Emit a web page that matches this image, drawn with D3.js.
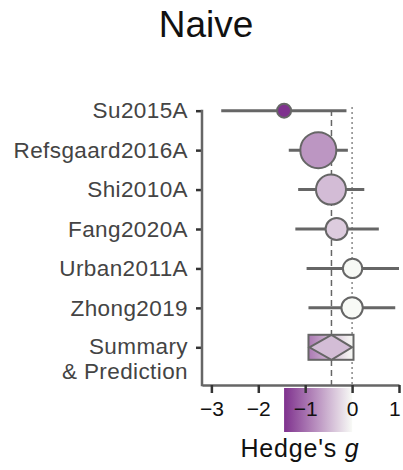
<!DOCTYPE html>
<html><head><meta charset="utf-8">
<script src="https://cdn.jsdelivr.net/npm/d3@7"></script>
<style>body{margin:0;background:#fff}svg{display:block}text{font-family:"Liberation Sans",Arial,Helvetica,sans-serif}</style>
</head><body><svg id="c" width="403" height="470"></svg>
<script>
const studies = ["Su2015A","Refsgaard2016A","Shi2010A","Fang2020A","Urban2011A","Zhong2019"];
const estimates = [-1.45, -0.72, -0.45, -0.33, 0.01, 0.00];
const ciLow = [-2.79, -1.35, -1.15, -1.21, -0.97, -0.93];
const ciHigh = [-0.12, -0.09, 0.26, 0.57, 1.00, 0.92];
const weights = [5.3, 35.0, 24.3, 13.1, 10.1, 12.3];
const summary = {est: -0.44, low: -0.91, high: 0.00};
const prediction = {low: -0.93, high: 0.03};
const xTicks = [-3, -2, -1, 0, 1];
const summaryLabel = ["Summary", "& Prediction"];
const title = "Naive";

const svg = d3.select("#c");
const x = d3.scaleLinear().domain([-3.2, 1]).range([202, 399]);
const rows = studies.concat(["Summary"]);
const y = d3.scalePoint().domain(rows).range([110.7, 347.3]);
const r = d3.scaleSqrt().domain([0, 35]).range([0, 18]);
const color = d3.scaleLinear().domain([-1.5, 0, 1.5])
  .range(["#7b2a8a", "#f8faf6", "#1b7837"]).interpolate(d3.interpolateRgb).clamp(true);
const axisY = 385;
const FONT = "'Liberation Sans',Arial,Helvetica,sans-serif";

const defs = svg.append("defs");
function grad(id, lo, hi) {
  const g = defs.append("linearGradient").attr("id", id).attr("x1", "0%").attr("x2", "100%");
  d3.range(0, 11).forEach(i => {
    const v = lo + (hi - lo) * i / 10;
    g.append("stop").attr("offset", (i * 10) + "%").attr("stop-color", color(v));
  });
}
grad("legendGrad", estimates[0], 0);
grad("predGrad", prediction.low, prediction.high);

// title
svg.append("text").attr("x", 206).attr("y", 37).attr("text-anchor", "middle")
  .attr("font-size", 37).attr("fill", "#111").text(title);

// colour legend under x axis
svg.append("rect").attr("x", x(estimates[0])).attr("y", 388)
  .attr("width", x(0) - x(estimates[0])).attr("height", 44).attr("fill", "url(#legendGrad)");

// reference lines
svg.append("line").attr("x1", x(summary.est)).attr("x2", x(summary.est))
  .attr("y1", 110).attr("y2", axisY).attr("stroke", "#666").attr("stroke-width", 1.5)
  .attr("stroke-dasharray", "6,4");
svg.append("line").attr("x1", x(0)).attr("x2", x(0))
  .attr("y1", 107).attr("y2", axisY).attr("stroke", "#888").attr("stroke-width", 1.5)
  .attr("stroke-dasharray", "2,3");

// x axis
const gx = svg.append("g").attr("transform", `translate(0,${axisY})`)
  .call(d3.axisBottom(x).tickValues(xTicks).tickSize(8).tickSizeOuter(0).tickFormat(d3.format("d")));
gx.select(".domain").attr("stroke", "#666").attr("stroke-width", 2.5);
gx.selectAll(".tick line").attr("stroke", "#333").attr("stroke-width", 2.5);
gx.selectAll(".tick text").attr("font-size", 21).attr("fill", "#111").attr("dy", "0.95em")
  .style("font-family", FONT);
gx.selectAll(".tick").filter(d => d === 1).select("text").attr("text-anchor", "end").attr("dx", "0.05em");

// y axis
const gy = svg.append("g").attr("transform", "translate(202,0)")
  .call(d3.axisLeft(y).tickSize(6).tickSizeOuter(0).tickFormat(d => d === "Summary" ? "" : d));
gy.select(".domain").remove();
gy.selectAll(".tick line").attr("stroke", "#333").attr("stroke-width", 2.5);
gy.selectAll(".tick text").attr("font-size", 22.5).attr("fill", "#444").attr("x", -14)
  .style("letter-spacing", "0.4px").style("font-family", FONT);
svg.append("line").attr("x1", 202).attr("x2", 202).attr("y1", y(rows[0]) - 1).attr("y2", axisY + 1.2)
  .attr("stroke", "#666").attr("stroke-width", 2.5);
const sl = svg.append("text").attr("text-anchor", "end").attr("font-size", 22.5).attr("fill", "#444")
  .style("letter-spacing", "0.4px").style("font-family", FONT);
summaryLabel.forEach((t, i) => sl.append("tspan").attr("x", 188).attr("y", y("Summary") + 7 + i * 25).text(t));

// CI lines and points
const data = studies.map((s, i) => ({s, e: estimates[i], lo: ciLow[i], hi: ciHigh[i], w: weights[i]}));
svg.append("g").selectAll("line").data(data).join("line")
  .attr("x1", d => x(d.lo)).attr("x2", d => x(d.hi))
  .attr("y1", d => y(d.s)).attr("y2", d => y(d.s))
  .attr("stroke", "#666").attr("stroke-width", 3);
svg.append("g").selectAll("circle").data(data).join("circle")
  .attr("cx", d => x(d.e)).attr("cy", d => y(d.s)).attr("r", d => r(d.w))
  .attr("fill", d => color(d.e)).attr("stroke", "#666").attr("stroke-width", 2);

// summary: prediction box and diamond
const sy = y("Summary");
svg.append("rect").attr("x", x(prediction.low)).attr("y", sy - 12.5)
  .attr("width", x(prediction.high) - x(prediction.low)).attr("height", 25)
  .attr("fill", "url(#predGrad)").attr("stroke", "#666").attr("stroke-width", 2);
svg.append("path")
  .attr("d", `M${x(summary.low)},${sy}L${x(summary.est)},${sy - 12.5}L${x(summary.high)},${sy}L${x(summary.est)},${sy + 12.5}Z`)
  .attr("fill", color(summary.est)).attr("stroke", "#666").attr("stroke-width", 2);

// x label
const xl = svg.append("text").attr("x", 300).attr("y", 457).attr("text-anchor", "middle")
  .attr("font-size", 25).attr("fill", "#111").style("letter-spacing", "0.8px").style("font-family", FONT);
xl.append("tspan").text("Hedge's ");
xl.append("tspan").attr("font-style", "italic").text("g");
</script></body></html>
